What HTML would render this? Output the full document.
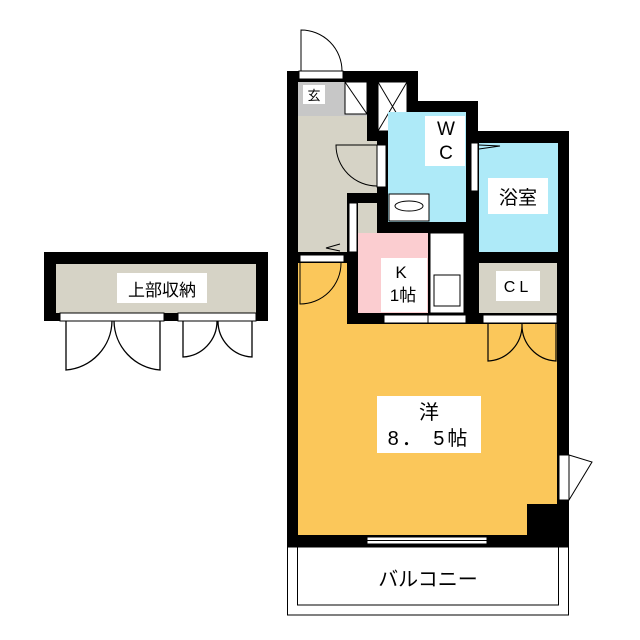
<!DOCTYPE html>
<html><head><meta charset="utf-8"><style>
body{margin:0;background:#fff}
svg{display:block}
text{font-family:"Liberation Sans","Noto Sans CJK JP",sans-serif;fill:#000}
</style></head><body>
<svg width="640" height="640" viewBox="0 0 640 640">
<!-- left storage -->
<rect x="44" y="252" width="224" height="69" fill="#000"/>
<rect x="56" y="264" width="200" height="49" fill="#d6d3c6"/>
<rect x="60" y="313" width="104" height="8" fill="#fff" stroke="#000" stroke-width="1"/>
<rect x="178" y="313" width="78" height="8" fill="#fff" stroke="#000" stroke-width="1"/>
<rect x="117" y="273" width="90" height="30" fill="#fff"/>
<text x="162" y="296" font-size="17" text-anchor="middle">上部収納</text>
<g fill="none" stroke="#000" stroke-width="1.3">
<path d="M66 321 V370 A50 50 0 0 0 112 321"/>
<path d="M160 321 V370 A50 50 0 0 1 114 321"/>
<path d="M183 321 V357 A36 36 0 0 0 217 321"/>
<path d="M252 321 V357 A36 36 0 0 1 218 321"/>
</g>
<!-- main black mass -->
<path d="M287 71 H418 V101 H478 V131 H569 V547 H287 Z" fill="#000"/>
<!-- entrance -->
<rect x="298" y="82" width="49" height="170" fill="#d6d3c6"/>
<rect x="347" y="82" width="20" height="111" fill="#d6d3c6"/>
<rect x="367" y="141" width="10" height="52" fill="#d6d3c6"/>
<rect x="298" y="82" width="69" height="34" fill="#c7c7c7"/>
<rect x="303" y="85" width="22" height="19" fill="#fff"/>
<text x="314" y="100" font-size="13" text-anchor="middle">玄</text>
<rect x="345" y="82" width="22" height="32" fill="#fff" stroke="#000"/>
<line x1="345" y1="82" x2="367" y2="114" stroke="#000"/>
<rect x="358" y="203" width="19" height="49" fill="#d6d3c6"/>
<rect x="349" y="203" width="8" height="49" fill="#fff" stroke="#000"/>
<path d="M340 244 L326 248 L340 251" fill="none" stroke="#000"/>
<!-- shaft -->
<rect x="378" y="82" width="29" height="49" fill="#fff" stroke="#000"/>
<path d="M378 82 L407 131 M407 82 L378 131" stroke="#000"/>
<!-- WC -->
<rect x="388" y="112" width="78" height="110" fill="#aeeaf8"/>
<rect x="425" y="116" width="40" height="50" fill="#fff"/>
<text x="446" y="135" font-size="19" text-anchor="middle">W</text>
<text x="446" y="159" font-size="19" text-anchor="middle">C</text>
<rect x="389" y="194" width="40" height="27" fill="#fff" stroke="#000"/>
<ellipse cx="409" cy="206" rx="14" ry="5" fill="#fff" stroke="#000"/>
<rect x="377" y="145" width="9" height="42" fill="#fff" stroke="#000"/>
<path d="M377 145 H336 A41 41 0 0 0 377 186" fill="none" stroke="#000"/>
<!-- bath -->
<rect x="479" y="143" width="79" height="109" fill="#aeeaf8"/>
<rect x="488" y="178" width="60" height="36" fill="#fff"/>
<text x="518" y="204" font-size="19" text-anchor="middle">浴室</text>
<rect x="471" y="143" width="7" height="48" fill="#fff" stroke="#000"/>
<path d="M479 145 L500 146 L479 149" fill="none" stroke="#000"/>
<!-- K -->
<rect x="358" y="233" width="70" height="80" fill="#fbcdd0"/>
<rect x="430" y="233" width="34" height="80" fill="#fff" stroke="#000"/>
<rect x="434" y="275" width="26" height="31" fill="#fff" stroke="#000"/>
<rect x="381" y="258" width="46" height="54" fill="#fff"/>
<text x="401" y="278" font-size="17" text-anchor="middle">K</text>
<text x="403" y="301" font-size="17" text-anchor="middle">1帖</text>
<rect x="384" y="315" width="44" height="8" fill="#fff" stroke="#000"/>
<rect x="428" y="315" width="38" height="8" fill="#fff" stroke="#000"/>
<!-- CL -->
<rect x="479" y="263" width="78" height="50" fill="#d6d3c6"/>
<rect x="496" y="271" width="44" height="30" fill="#fff"/>
<text x="518" y="292" font-size="16" text-anchor="middle" letter-spacing="4">CL</text>
<rect x="483" y="315" width="74" height="8" fill="#fff" stroke="#000"/>
<!-- main room -->
<path d="M298 263 H347 V324 H557 V504 H527 V535 H298 Z" fill="#fbc75a"/>
<rect x="300" y="255" width="44" height="7" fill="#fff" stroke="#000"/>
<path d="M300 263 V304 A41 41 0 0 0 341 263" fill="none" stroke="#000"/>
<path d="M488 324 V361 A36 36 0 0 0 522 324 M556 324 V361 A36 36 0 0 1 522 324" fill="none" stroke="#000" stroke-width="1.2"/>
<rect x="377" y="396" width="104" height="57" fill="#fff"/>
<text x="429" y="419" font-size="20" text-anchor="middle">洋</text>
<text x="429" y="445" font-size="20" text-anchor="middle" letter-spacing="3">8． 5帖</text>
<rect x="559" y="455" width="10" height="45" fill="#fff" stroke="#000"/>
<path d="M569 455 L592 462 L569 500" fill="none" stroke="#000"/>
<rect x="367" y="537" width="120" height="7" fill="#fff" stroke="#000"/>
<line x1="367" y1="540.5" x2="487" y2="540.5" stroke="#000"/>
<!-- balcony -->
<rect x="287.5" y="547" width="281" height="68" fill="#fff" stroke="#000"/>
<rect x="297.5" y="547" width="261" height="58" fill="none" stroke="#000"/>
<text x="428" y="586" font-size="20" text-anchor="middle">バルコニー</text>
<!-- front door -->
<rect x="299" y="71" width="44" height="8" fill="#fff" stroke="#000"/>
<path d="M301 71 V30 A41 41 0 0 1 342 71" fill="none" stroke="#000"/>
</svg>
</body></html>
